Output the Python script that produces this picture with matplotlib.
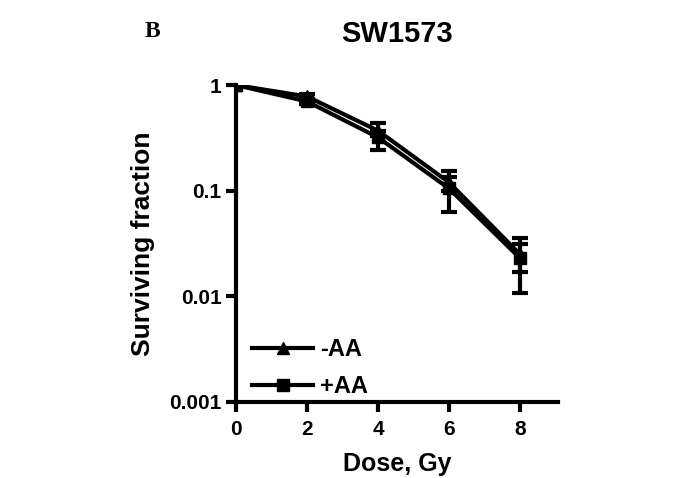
import numpy as np
import matplotlib.pyplot as plt
from matplotlib.lines import Line2D

plt.rcParams['font.family'] = ['Liberation Sans', 'DejaVu Sans']
plt.rcParams['font.weight'] = 'bold'

# data
dose = [0, 2, 4, 6, 8]
minus_aa = [1.0, 0.78, 0.37, 0.12, 0.025]
minus_aa_lo = [0.0, 0.05, 0.04, 0.02, 0.008]
minus_aa_hi = [0.0, 0.05, 0.07, 0.034, 0.011]
plus_aa = [1.0, 0.70, 0.32, 0.105, 0.023]
plus_aa_lo = [0.0, 0.04, 0.076, 0.042, 0.0123]
plus_aa_hi = [0.0, 0.04, 0.05, 0.03, 0.008]

fig = plt.figure(figsize=(6.88, 4.78), dpi=100)
ax = fig.add_axes([0.343, 0.159, 0.468, 0.663])

ax.errorbar(dose, minus_aa, yerr=[minus_aa_lo, minus_aa_hi], color='black',
            lw=3, marker='^', ms=9, capsize=6, capthick=3, elinewidth=3)
ax.errorbar(dose, plus_aa, yerr=[plus_aa_lo, plus_aa_hi], color='black',
            lw=3, marker='s', ms=8, capsize=6, capthick=3, elinewidth=3)

ax.set_yscale('log')
ax.set_ylim(0.001, 1)
ax.set_xlim(0, 9.07)
ax.set_xticks([0, 2, 4, 6, 8])
ax.set_yticks([0.001, 0.01, 0.1, 1])
ax.set_yticklabels(['0.001', '0.01', '0.1', '1'])
ax.minorticks_off()
ax.tick_params(width=3, length=7, labelsize=15, direction='out')
ax.tick_params(axis='x', pad=6)

for side in ['top', 'right']:
    ax.spines[side].set_visible(False)
for side in ['left', 'bottom']:
    ax.spines[side].set_linewidth(3)

ax.set_xlabel('Dose, Gy', fontsize=18, fontweight='bold', labelpad=9)
ax.set_ylabel('Surviving fraction', fontsize=19, fontweight='bold', labelpad=10)
ax.set_title('SW1573', fontsize=21, fontweight='bold', pad=31)

handles = [Line2D([], [], color='black', lw=3, marker='^', ms=9),
           Line2D([], [], color='black', lw=3, marker='s', ms=8)]
ax.legend(handles, ['-AA', '+AA'], loc='lower left', frameon=False,
          fontsize=17, handlelength=2.6, handletextpad=0.3,
          borderaxespad=0.0, labelspacing=0.6, bbox_to_anchor=(0.02, -0.018))

fig.text(0.222, 0.935, 'B', fontsize=17, fontweight='bold',
         family='Liberation Serif', ha='center', va='center')

plt.savefig('out.png', dpi=100)
